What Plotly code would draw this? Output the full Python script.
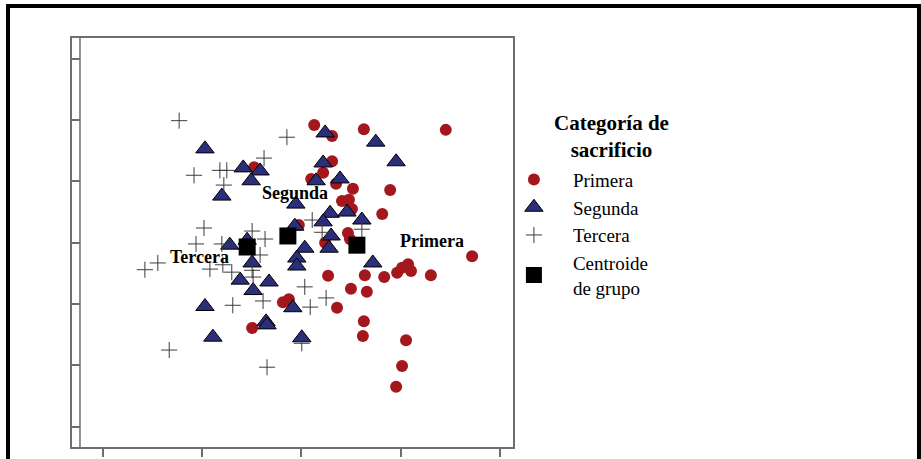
import plotly.graph_objects as go

# Discriminant scores (function 1 = x, function 2 = y)
primera_x = [0.26, 0.62, 1.26, 2.91, 0.62, 0.44, 0.20, 0.70, 1.04, 1.79, 0.82, 0.96, 1.02, 1.63,
             0.94, 0.98, 0.48, -0.05, -0.95, 3.44, 0.54, 1.28, 1.67, 1.93, 2.03, 2.15, 2.21, 2.61,
             1.00, 1.32, 0.72, 1.26, 1.24, 2.11, 2.03, 1.91, -0.37, -0.25, -0.99]
primera_y = [1.92, 1.74, 1.85, 1.84, 1.33, 1.14, 1.04, 0.96, 0.88, 0.86, 0.68, 0.70, 0.55, 0.47,
             0.16, 0.06, 0.00, 0.29, 1.23, -0.22, -0.54, -0.53, -0.56, -0.49, -0.41, -0.35, -0.46, -0.53,
             -0.75, -0.80, -1.06, -1.28, -1.52, -1.59, -2.01, -2.35, -0.97, -0.92, -1.39]

segunda_x = [-1.94, -1.17, -0.83, -1.01, -1.60, -0.11, -0.13, -1.44, -1.09, 0.48, 1.50, 1.91,
             0.44, 0.30, 0.78, 0.58, 0.92, 1.22, 0.44, 0.60, 0.56, 0.07, -0.99, -0.09, -0.09,
             -1.23, -0.65, -0.97, -1.94, -0.17, -0.71, -1.78, 0.01, 1.44, -0.69]
segunda_y = [1.53, 1.22, 1.17, 1.01, 0.76, 0.63, 0.27, -0.04, 0.04, 1.79, 1.64, 1.32,
             1.30, 1.01, 1.04, 0.48, 0.50, 0.37, 0.34, 0.11, -0.09, -0.09, -0.33, -0.25, -0.38,
             -0.61, -0.64, -0.78, -1.04, -1.06, -1.29, -1.54, -1.55, -0.33, -1.34]

tercera_x = [-2.46, -0.29, -0.75, -2.16, -1.64, -1.50, -1.56, -1.96, -2.12, -0.99, -0.73, -2.89,
             -3.15, -1.84, -1.40, -0.99, -0.83, -1.38, -0.77, -2.66, -0.69, 0.07, 0.18, 0.50,
             0.01, 0.22, 0.42, 1.22, -1.58, -1.60, -0.97]
tercera_y = [1.99, 1.72, 1.38, 1.10, 1.18, 1.18, 0.94, 0.24, -0.02, 0.19, 0.06, -0.33,
             -0.44, -0.43, -0.48, -0.45, -0.20, -1.02, -0.95, -1.75, -2.03, -0.72, -1.05, -0.90,
             -1.64, 0.37, 0.17, 0.22, -0.36, -0.02, -0.56]

centroid_names = ["Primera", "Segunda", "Tercera"]
centroid_x = [1.12, -0.27, -1.09]
centroid_y = [-0.04, 0.11, -0.07]

x_ticks = [-4, -2, 0, 2, 4]
y_ticks = [-3, -2, -1, 0, 1, 2, 3]

legend_title_lines = ["Categoría de", "sacrificio"]

SERIF = "Liberation Serif, Times New Roman, serif"
AX = "#6e6e6e"

fig = go.Figure()
fig.add_trace(go.Scatter(x=primera_x, y=primera_y, mode="markers", name="Primera",
                         marker=dict(symbol="circle", size=12, color="#a3171d")))
fig.add_trace(go.Scatter(x=segunda_x, y=segunda_y, mode="markers", name="Segunda",
                         marker=dict(symbol="triangle-up", size=16, color="#2b2e7a",
                                     line=dict(color="black", width=1))))
fig.add_trace(go.Scatter(x=tercera_x, y=tercera_y, mode="markers", name="Tercera",
                         marker=dict(symbol="cross-thin", size=11.5,
                                     line=dict(color="#3c3c3c", width=1))))
fig.add_trace(go.Scatter(x=centroid_x, y=centroid_y, mode="markers", name="Centroide<br>de grupo",
                         marker=dict(symbol="square", size=17, color="black")))

label_shift = {"Primera": (75, 4), "Segunda": (7, 43), "Tercera": (-48, -10)}
for n, cx, cy in zip(centroid_names, centroid_x, centroid_y):
    dx, dy = label_shift[n]
    fig.add_annotation(x=cx, y=cy, text="<b>" + n + "</b>", showarrow=False,
                       xshift=dx, yshift=dy, font=dict(family=SERIF, size=18, color="black"))

# legend title (centred, two lines)
fig.add_annotation(xref="paper", yref="paper", x=1.224, y=0.760,
                   text="<b>" + "<br>".join(legend_title_lines) + "</b>", showarrow=False,
                   xanchor="center", yanchor="middle", align="center",
                   font=dict(family=SERIF, size=21, color="black"))

# outer frame of the figure
fig.add_shape(type="rect", xref="paper", yref="paper",
              x0=-0.1451, x1=1.9206, y0=-0.08, y1=1.0782,
              line=dict(color="black", width=4), layer="above")
# inner frame line of the plot box
fig.add_shape(type="line", xref="paper", yref="paper",
              x0=0.0181, x1=0.0181, y0=0, y1=1,
              line=dict(color=AX, width=1.5))

fig.update_layout(
    width=921, height=459,
    margin=dict(l=72, r=408, t=38, b=12, autoexpand=False),
    paper_bgcolor="white", plot_bgcolor="white",
    font=dict(family=SERIF, color="black"),
    showlegend=True,
    legend=dict(
        x=0.959, y=0.70, xanchor="left", yanchor="top",
        itemwidth=68,
        font=dict(family=SERIF, size=19, color="black"),
        bgcolor="rgba(0,0,0,0)", tracegroupgap=0,
    ),
    xaxis=dict(range=[-4.618, 4.264], tickvals=x_ticks, showticklabels=False,
               ticks="outside", ticklen=8, tickcolor=AX, tickwidth=1.5,
               showline=True, linecolor=AX, linewidth=1.5, mirror=True,
               showgrid=False, zeroline=False, automargin=False),
    yaxis=dict(range=[-3.331, 3.338], tickvals=y_ticks, showticklabels=False,
               ticks="inside", ticklen=8, tickcolor=AX, tickwidth=1.5,
               showline=True, linecolor=AX, linewidth=1.5, mirror=True,
               showgrid=False, zeroline=False, automargin=False),
)

fig.write_html("out.html", config={"displayModeBar": False},
               post_script="document.body.style.margin='0';")
